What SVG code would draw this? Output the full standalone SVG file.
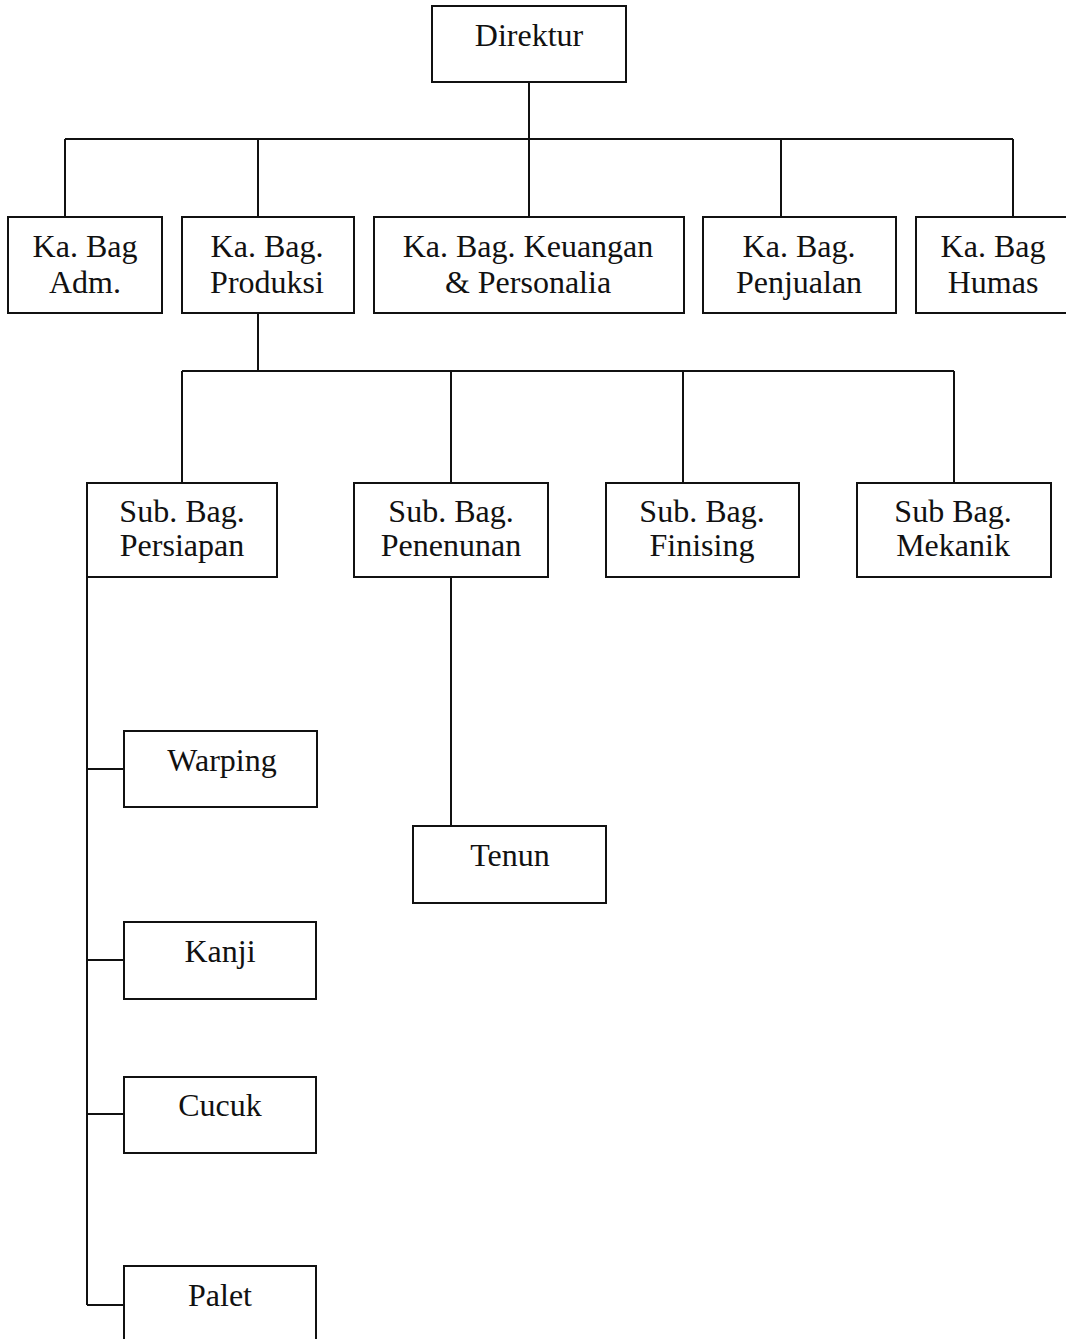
<svg xmlns="http://www.w3.org/2000/svg" width="1066" height="1339" viewBox="0 0 1066 1339">
<style>
.box{fill:#fff;stroke:#111;stroke-width:2}
.ln{fill:none;stroke:#111;stroke-width:2}
text{font-family:"Liberation Serif","Times New Roman",serif;font-size:32px;fill:#111;text-anchor:middle}
</style>
<rect width="1066" height="1339" fill="#fff"/>
<g id="connectors" class="ln">
<path d="M529 82V139M65 139H1013M65 139V217M258 139V217M529 139V217M781 139V217M1013 139V217"/>
<path d="M258 313V371M182 371H954M182 371V483M451 371V483M683 371V483M954 371V483"/>
<path d="M87 577V1305M87 769H124M87 960H124M87 1114H124M87 1305H124"/>
<path d="M451 577V826"/>
</g>
<g id="direktur"><rect class="box" x="432" y="6" width="194" height="76"/><text x="529" y="46">Direktur</text></g>
<g id="adm"><rect class="box" x="8" y="217" width="154" height="96"/><text x="85" y="257">Ka. Bag</text><text x="85" y="293">Adm.</text></g>
<g id="produksi"><rect class="box" x="182" y="217" width="172" height="96"/><text x="267" y="257">Ka. Bag.</text><text x="267" y="293">Produksi</text></g>
<g id="keuangan"><rect class="box" x="374" y="217" width="310" height="96"/><text x="528" y="257">Ka. Bag. Keuangan</text><text x="528" y="293">&amp; Personalia</text></g>
<g id="penjualan"><rect class="box" x="703" y="217" width="193" height="96"/><text x="799" y="257">Ka. Bag.</text><text x="799" y="293">Penjualan</text></g>
<g id="humas"><rect class="box" x="916" y="217" width="152" height="96"/><text x="993" y="257">Ka. Bag</text><text x="993" y="293">Humas</text></g>
<g id="persiapan"><rect class="box" x="87" y="483" width="190" height="94"/><text x="182" y="522">Sub. Bag.</text><text x="182" y="556">Persiapan</text></g>
<g id="penenunan"><rect class="box" x="354" y="483" width="194" height="94"/><text x="451" y="522">Sub. Bag.</text><text x="451" y="556">Penenunan</text></g>
<g id="finising"><rect class="box" x="606" y="483" width="193" height="94"/><text x="702" y="522">Sub. Bag.</text><text x="702" y="556">Finising</text></g>
<g id="mekanik"><rect class="box" x="857" y="483" width="194" height="94"/><text x="953" y="522">Sub Bag.</text><text x="953" y="556">Mekanik</text></g>
<g id="warping"><rect class="box" x="124" y="731" width="193" height="76"/><text x="222" y="771">Warping</text></g>
<g id="kanji"><rect class="box" x="124" y="922" width="192" height="77"/><text x="220" y="962">Kanji</text></g>
<g id="cucuk"><rect class="box" x="124" y="1077" width="192" height="76"/><text x="220" y="1116">Cucuk</text></g>
<g id="palet"><rect class="box" x="124" y="1266" width="192" height="80"/><text x="220" y="1306">Palet</text></g>
<g id="tenun"><rect class="box" x="413" y="826" width="193" height="77"/><text x="510" y="866">Tenun</text></g>
</svg>
